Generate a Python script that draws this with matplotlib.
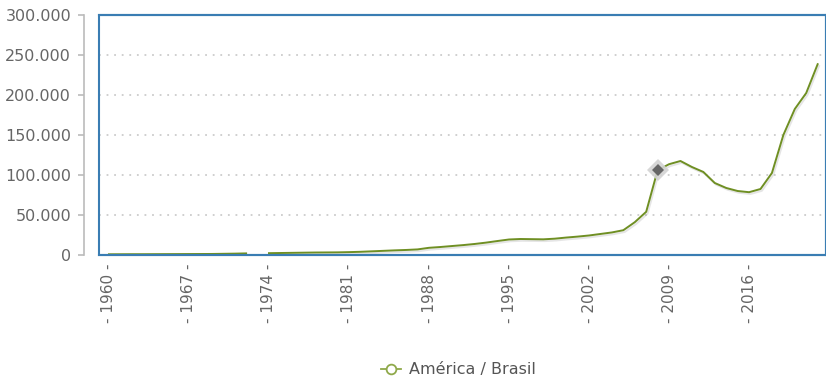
import numpy as np
import matplotlib
matplotlib.use("Agg")
import matplotlib.pyplot as plt
import matplotlib.patheffects as pe
from matplotlib.lines import Line2D
from matplotlib.patches import Rectangle
from matplotlib.ticker import FuncFormatter

# data (1973 missing -> gap in the line)
years = list(range(1960, 2023))
values = [
    900, 950, 1000, 1000, 1050, 1100, 1150, 1200, 1250, 1300, 1500, 1700, 2000,   # 1960-1972
    np.nan,                                                                      # 1973
    2300, 2500, 2700, 2900, 3100, 3200, 3300, 3600, 4000, 4600, 5200, 5800,      # 1974-1985
    6300, 7000, 9000, 10000, 11200, 12400, 13800, 15500, 17500, 19400,           # 1986-1995
    20000, 19800, 19600, 20400, 21800, 23000, 24400, 26300, 28200, 31000,        # 1996-2005
    41000, 54000, 106000, 113500, 117500, 110000, 103800, 90000, 83800, 80000,   # 2006-2015
    78500, 82500, 102500, 150000, 182500, 202500, 238500,                        # 2016-2022
]
series_name = "América / Brasil"
highlight_year = 2008
xtick_years = list(range(1960, 2017, 7))
ytick_values = [0, 50000, 100000, 150000, 200000, 250000, 300000]

line_color = "#6f8f23"
frame_color = "#3a7db3"
text_color = "#666666"

fig = plt.figure(figsize=(8.26, 3.83), dpi=100)
ax = fig.add_axes([99 / 826, 1 - 255 / 383, 727 / 826, 240 / 383])

ax.plot(years, values, color=line_color, linewidth=1.4, solid_joinstyle="round",
        path_effects=[pe.SimpleLineShadow(offset=(1.0, -1.3), shadow_color="#999999", alpha=0.25),
                      pe.Normal()], zorder=3)

# hover marker
hi = years.index(highlight_year)
ax.plot([years[hi]], [values[hi]], marker="D", markersize=11.5, color="#d3d3d3",
        markeredgewidth=0, zorder=4, alpha=0.9)
ax.plot([years[hi]], [values[hi]], marker="D", markersize=6.5, color="#666666",
        markeredgewidth=0, zorder=5)

ax.set_xlim(1959.13, 2022.73)
ax.set_ylim(0, 300000)

# grid
for v in ytick_values[1:-1]:
    ax.axhline(v, color="#cccccc", linewidth=1.3, linestyle=(0, (1, 3.2)), zorder=1)

# frame
for s in ["top", "right", "bottom"]:
    ax.spines[s].set_color(frame_color)
    ax.spines[s].set_linewidth(1.5)
ax.add_patch(Rectangle((0, 0), 1, 1, transform=ax.transAxes, fill=False,
                       edgecolor=frame_color, linewidth=1.5, clip_on=False, zorder=6))
ax.spines["left"].set_position(("outward", 11))
ax.spines["left"].set_color("#bbbbbb")
ax.spines["left"].set_linewidth(1.2)

ax.set_yticks(ytick_values)
ax.yaxis.set_major_formatter(FuncFormatter(lambda v, p: f"{int(v):,}".replace(",", ".")))
ax.tick_params(axis="y", colors="#bbbbbb", length=4, width=1.2, pad=5,
               labelsize=11.5, labelcolor=text_color)

ax.set_xticks(xtick_years)
ax.set_xticklabels([f"- {y} -" for y in xtick_years], rotation=90)
ax.tick_params(axis="x", length=0, pad=6, labelsize=11, labelcolor=text_color)

handle = Line2D([], [], color="#8fa94a", linewidth=1.3, marker="o", markersize=7,
                markerfacecolor="white", markeredgecolor="#8fa94a", markeredgewidth=1.3)
fig.legend([handle], [series_name], loc="center", bbox_to_anchor=(0.555, 0.035),
           frameon=False, fontsize=11.5, labelcolor="#555555", handlelength=1.3,
           handletextpad=0.5)

fig.savefig("out.png", dpi=100)
